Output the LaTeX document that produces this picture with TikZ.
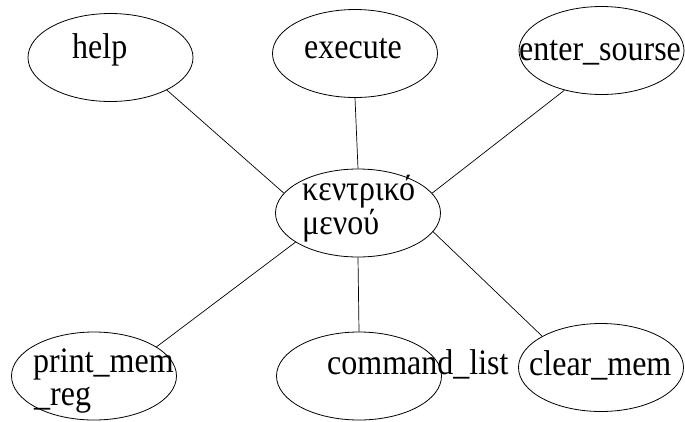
\documentclass[tikz,border=0pt]{standalone}
\usepackage{fontspec}
\setmainfont{Liberation Serif}
\usetikzlibrary{shapes.geometric}

% labels are set slightly tall and narrow
\newcommand{\tallword}[1]{\scalebox{1}[1.12]{#1}}

\tikzset{
  bubble/.style={ellipse, draw=black, line width=0.8pt, minimum width=165pt,
                 minimum height=88pt, inner sep=0pt},
  lbl/.style={anchor=base west, inner sep=0pt, font=\fontsize{32}{32}\selectfont},
  link/.style={draw=black, line width=0.7pt}
}

\begin{document}
\begin{tikzpicture}[x=1pt, y=-1pt]
  \useasboundingbox (0,0) rectangle (685,421);

  % ellipses
  \node[bubble] (help)  at (110.5, 57.5) {};
  \node[bubble] (exec)  at (355, 53.5) {};
  \node[bubble] (enter) at (601.5, 50.5) {};
  \node[bubble] (menu)  at (358, 213) {};
  \node[bubble] (print) at (94, 376) {};
  \node[bubble] (cmd)   at (359, 376) {};
  \node[bubble] (clear) at (601, 367.5) {};

  % labels
  \node[lbl] (thelp)  at (72, 58)   {\tallword{help}};
  \node[lbl] (texec)  at (304, 58)  {\tallword{execute}};
  \node[lbl] (tenter) at (519, 60)  {\tallword{enter\_sourse}};
  \node[lbl] (tmenua) at (302, 200) {\tallword{κεντρικό}};
  \node[lbl] (tmenub) at (302, 234) {\tallword{μενού}};
  \node[lbl] (tprnta) at (33, 372)  {\tallword{print\_mem}};
  \node[lbl] (tprntb) at (34, 405)  {\tallword{\_reg}};
  \node[lbl] (tcmd)   at (327, 374) {\tallword{command\_list}};
  \node[lbl] (tclear) at (529, 375) {\tallword{clear\_mem}};

  % connectors
  \draw[link] (help.-30)    -- (menu.165);
  \draw[link] (exec.-90)    -- (menu.90);
  \draw[link] (enter.-133)  -- (menu.15);
  \draw[link] (print.25)    -- (menu.205);
  \draw[link] (menu.-90)    -- (cmd.90);
  \draw[link] (menu.-14)    -- (clear.152);
\end{tikzpicture}
\end{document}
